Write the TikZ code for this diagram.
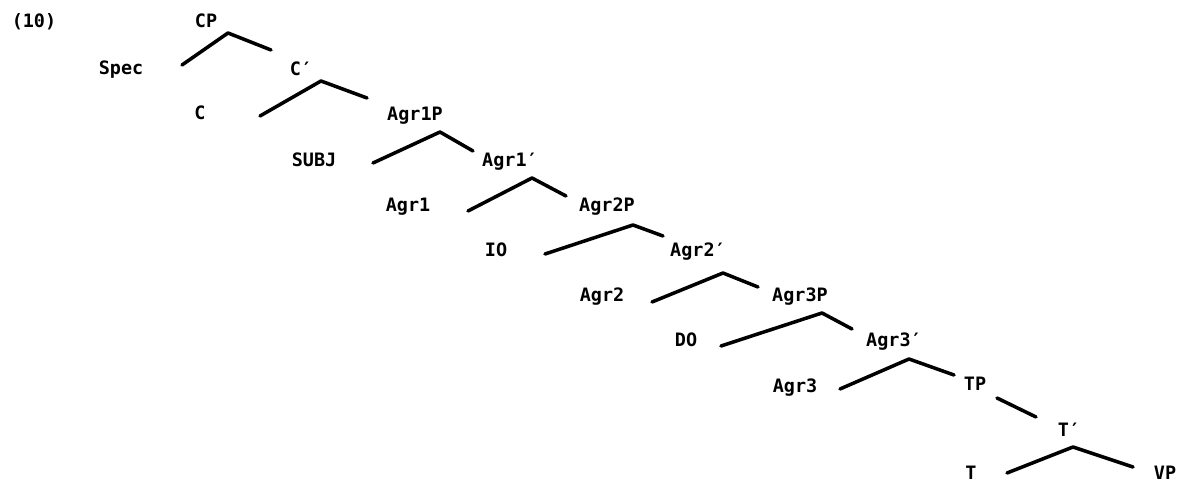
\documentclass[tikz,border=0pt]{standalone}
\usepackage{fontspec}
\setmonofont{DejaVu Sans Mono}

\begin{document}
\begin{tikzpicture}[
    x=0.02cm, y=-0.02cm,
    cat/.style={font=\ttfamily\bfseries\fontsize{10.5}{12}\selectfont, text height=7.5pt, text depth=0pt, inner sep=0pt},
    branch/.style={line width=2pt, line cap=round, line join=round}
]
    \useasboundingbox (0,0) rectangle (1182,482);

    % labels
    \node[cat] (ex) at (34,21) {(10)};
    \node[cat] (CP) at (206,21) {CP};
    \node[cat] (Spec) at (121,68) {Spec};
    \node[cat] (Cbar) at (301,69) {C′};
    \node[cat] (C) at (200,113) {C};
    \node[cat] (Agr1P) at (415,114) {Agr1P};
    \node[cat] (SUBJ) at (314,160) {SUBJ};
    \node[cat] (Agr1bar) at (510,160) {Agr1′};
    \node[cat] (Agr1) at (408,205) {Agr1};
    \node[cat] (Agr2P) at (607,205) {Agr2P};
    \node[cat] (IO) at (496,250) {IO};
    \node[cat] (Agr2bar) at (698,250) {Agr2′};
    \node[cat] (Agr2) at (602,295) {Agr2};
    \node[cat] (Agr3P) at (800,295) {Agr3P};
    \node[cat] (DO) at (686,340) {DO};
    \node[cat] (Agr3bar) at (894,340) {Agr3′};
    \node[cat] (Agr3) at (795,386) {Agr3};
    \node[cat] (TP) at (975,384) {TP};
    \node[cat] (Tbar) at (1069,430) {T′};
    \node[cat] (T) at (971,473) {T};
    \node[cat] (VP) at (1165,473) {VP};

    % branch points
    \coordinate (CPl) at (182,65);  \coordinate (CPt) at (228,33);  \coordinate (CPr) at (271,50);
    \coordinate (Cbl) at (260,116); \coordinate (Cbt) at (321,81);  \coordinate (Cbr) at (367,98);
    \coordinate (A1l) at (373,163); \coordinate (A1t) at (440,132); \coordinate (A1r) at (473,151);
    \coordinate (A1bl) at (468,211); \coordinate (A1bt) at (532,178); \coordinate (A1br) at (566,196);
    \coordinate (A2l) at (545,254); \coordinate (A2t) at (633,225); \coordinate (A2r) at (663,236);
    \coordinate (A2bl) at (652,302); \coordinate (A2bt) at (723,273); \coordinate (A2br) at (758,287);
    \coordinate (A3l) at (721,346); \coordinate (A3t) at (822,313); \coordinate (A3r) at (852,329);
    \coordinate (A3bl) at (840,389); \coordinate (A3bt) at (909,359); \coordinate (A3br) at (954,375);
    \coordinate (TPt) at (997,398); \coordinate (TPr) at (1036,417);
    \coordinate (Tbl) at (1007,473); \coordinate (Tbt) at (1073,447); \coordinate (Tbr) at (1133,467);

    \draw[branch] (CPl) -- (CPt) -- (CPr);
    \draw[branch] (Cbl) -- (Cbt) -- (Cbr);
    \draw[branch] (A1l) -- (A1t) -- (A1r);
    \draw[branch] (A1bl) -- (A1bt) -- (A1br);
    \draw[branch] (A2l) -- (A2t) -- (A2r);
    \draw[branch] (A2bl) -- (A2bt) -- (A2br);
    \draw[branch] (A3l) -- (A3t) -- (A3r);
    \draw[branch] (A3bl) -- (A3bt) -- (A3br);
    \draw[branch] (TPt) -- (TPr);
    \draw[branch] (Tbl) -- (Tbt) -- (Tbr);
\end{tikzpicture}
\end{document}
